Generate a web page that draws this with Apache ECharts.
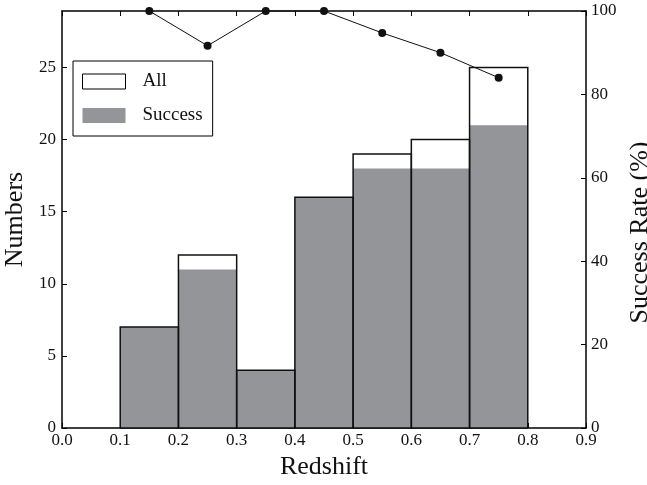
<!DOCTYPE html>
<html><head><meta charset="utf-8">
<script src="https://cdn.jsdelivr.net/npm/echarts@6/dist/echarts.min.js"></script>
<style>html,body{margin:0;padding:0;background:#fff}#c{width:647px;height:485px}</style>
</head><body><div id="c"></div>
<script>
const binLo = [0.1, 0.2, 0.3, 0.4, 0.5, 0.6, 0.7];
const binHi = [0.2, 0.3, 0.4, 0.5, 0.6, 0.7, 0.8];
const allCounts = [7, 12, 4, 16, 19, 20, 25];
const successCounts = [7, 11, 4, 16, 18, 18, 21];
const rateX = [0.15, 0.25, 0.35, 0.45, 0.55, 0.65, 0.75];
const rateY = [100, 91.67, 100, 100, 94.74, 90, 84];
const xTicks = [0, 0.1, 0.2, 0.3, 0.4, 0.5, 0.6, 0.7, 0.8, 0.9];

const FONT = '"Liberation Serif", "DejaVu Serif", serif';
const GRAY = '#939598';

function barData(counts){ return binLo.map((lo,i)=>[lo, binHi[i], counts[i]]); }
function makeRender(fill, stroke, lw){
  return function(params, api){
    const p0 = api.coord([api.value(0), 0]);
    const p1 = api.coord([api.value(1), api.value(2)]);
    return {type:'rect', shape:{x:p0[0], y:p1[1], width:p1[0]-p0[0], height:p0[1]-p1[1]},
      style:{fill:fill, stroke:stroke, lineWidth:lw}};
  };
}

const chart = echarts.init(document.getElementById('c'), null, {renderer:'canvas'});
const axisLbl = {fontFamily:FONT, fontSize:17, color:'#111'};
const line = {show:true, onZero:false, lineStyle:{color:'#000', width:1.5}};
const tick = {show:true, inside:true, length:5, lineStyle:{color:'#000'}};
chart.setOption({
  animation:false,
  backgroundColor:'#fff',
  grid:{left:62, right:61, top:11, bottom:57, show:false, containLabel:false, outerBoundsMode:'none'},
  legend:{
    left:73, top:61, orient:'vertical',
    padding:[11,10,11,9],
    borderColor:'#000', borderWidth:1, backgroundColor:'#fff',
    itemWidth:43, itemHeight:15, itemGap:15,
    textStyle:{fontFamily:FONT, fontSize:19, color:'#111', lineHeight:15, padding:[0,0,0,12]},
    data:[
      {name:'All', icon:'rect', itemStyle:{color:'#fff', borderColor:'#000', borderWidth:1}},
      {name:'Success', icon:'rect', itemStyle:{color:GRAY, borderWidth:0}}
    ]
  },
  xAxis:[
    {type:'value', min:0, max:0.9, interval:0.1, position:'bottom',
     name:'Redshift', nameLocation:'middle', nameGap:26,
     nameTextStyle:{fontFamily:FONT, fontSize:26, color:'#111'},
     axisLine:line, axisTick:tick,
     axisLabel:Object.assign({margin:4, formatter:v=>v.toFixed(1)}, axisLbl),
     splitLine:{show:false}},
    {type:'value', min:0, max:0.9, interval:0.1, position:'top',
     axisLine:line, axisTick:tick,
     axisLabel:{show:false}, splitLine:{show:false}}
  ],
  yAxis:[
    {type:'value', min:0, max:28.92, interval:5, position:'left',
     name:'Numbers', nameLocation:'middle', nameGap:25, nameRotate:90,
     nameTextStyle:{fontFamily:FONT, fontSize:26, color:'#111'},
     axisLine:line, axisTick:tick,
     axisLabel:Object.assign({margin:6, showMaxLabel:false}, axisLbl),
     splitLine:{show:false}},
    {type:'value', min:0, max:100, interval:20, position:'right',
     name:'Success Rate (%)', nameLocation:'middle', nameGap:36, nameRotate:90,
     nameTextStyle:{fontFamily:FONT, fontSize:26, color:'#111', padding:[0,26,0,0]},
     axisLine:line, axisTick:tick,
     axisLabel:Object.assign({margin:5}, axisLbl),
     splitLine:{show:false}}
  ],
  series:[
    {name:'Success', type:'custom', xAxisIndex:0, yAxisIndex:0,
     renderItem:makeRender(GRAY, null, 0), data:barData(successCounts),
     itemStyle:{color:GRAY}, z:2},
    {name:'All', type:'custom', xAxisIndex:0, yAxisIndex:0,
     renderItem:makeRender('rgba(0,0,0,0)', '#111', 1.5), data:barData(allCounts),
     itemStyle:{color:'#fff'}, z:3},
    {name:'Rate', type:'line', xAxisIndex:0, yAxisIndex:1,
     data:rateX.map((x,i)=>[x, rateY[i]]),
     symbol:'circle', symbolSize:8, clip:false,
     lineStyle:{color:'#111', width:1}, itemStyle:{color:'#111'}, z:5}
  ]
});
</script></body></html>
